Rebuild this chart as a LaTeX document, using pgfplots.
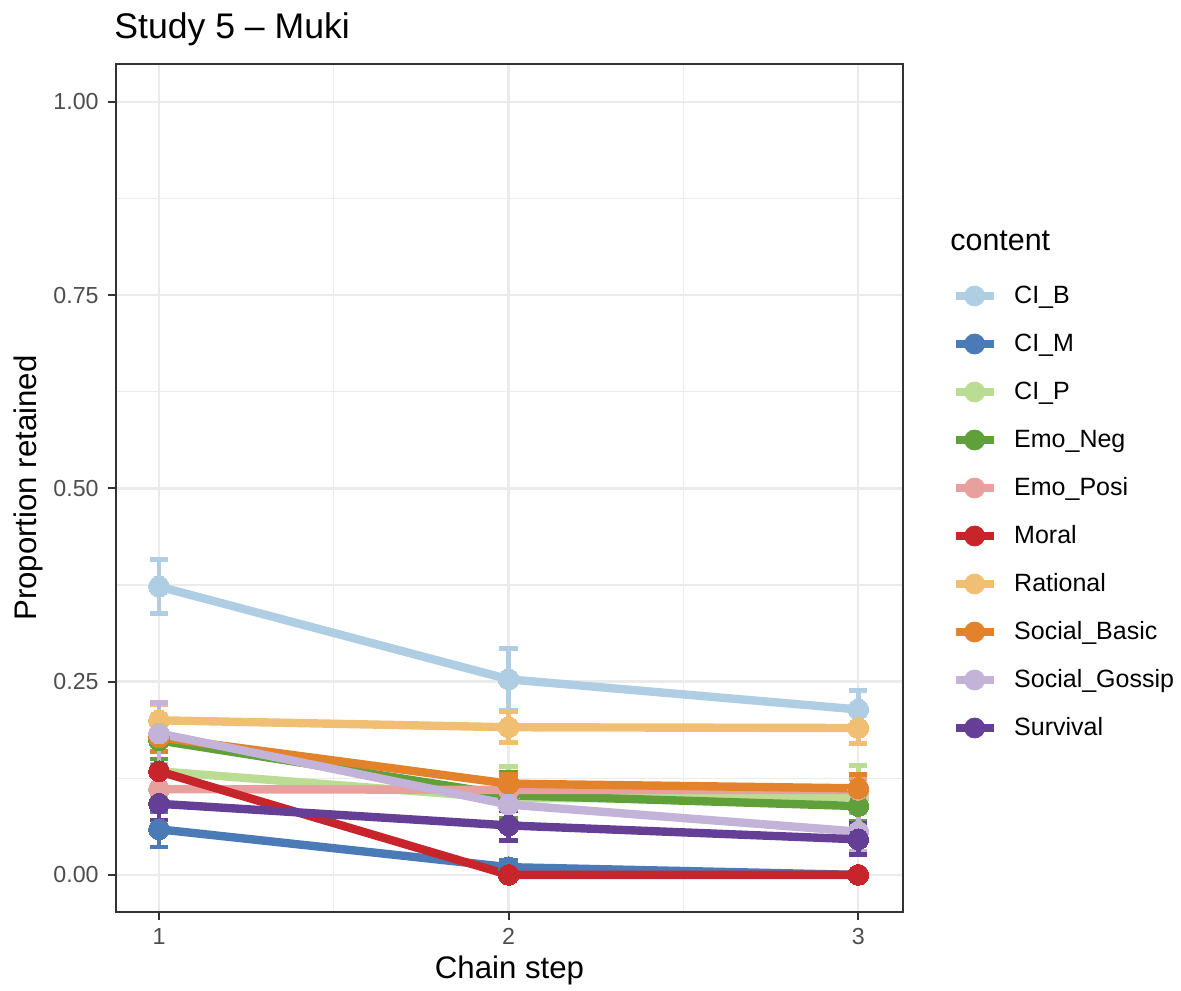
\documentclass[border=0pt]{standalone}
\usepackage{pgfplots}
\pgfplotsset{compat=1.18}
\usepackage{pgfplotstable}
\usepackage{fontspec}
\setmainfont{Liberation Sans}

\definecolor{cCIB}{HTML}{AFCDE3}
\definecolor{cCIM}{HTML}{4A7BB7}
\definecolor{cCIP}{HTML}{BADD93}
\definecolor{cENeg}{HTML}{5FA03A}
\definecolor{cEPos}{HTML}{E8A09E}
\definecolor{cMoral}{HTML}{C8242B}
\definecolor{cRat}{HTML}{F0BF74}
\definecolor{cSB}{HTML}{E2822A}
\definecolor{cSG}{HTML}{C3B3D8}
\definecolor{cSurv}{HTML}{653F95}
\definecolor{gridc}{HTML}{EBEBEB}
\definecolor{axc}{HTML}{333333}
\definecolor{tlc}{HTML}{4D4D4D}

\pgfplotstableread{
x y e
1 0.373 0.035
2 0.253 0.040
3 0.214 0.025
}\tCIB
\pgfplotstableread{
x y e
1 0.059 0.023
2 0.010 0.009
3 0.000 0.000
}\tCIM
\pgfplotstableread{
x y e
1 0.134 0.033
2 0.099 0.041
3 0.101 0.040
}\tCIP
\pgfplotstableread{
x y e
1 0.174 0.024
2 0.103 0.030
3 0.089 0.020
}\tENeg
\pgfplotstableread{
x y e
1 0.111 0.018
2 0.110 0.015
3 0.110 0.015
}\tEPos
\pgfplotstableread{
x y e
1 0.134 0.041
2 0.000 0.000
3 0.000 0.000
}\tMoral
\pgfplotstableread{
x y e
1 0.200 0.020
2 0.191 0.020
3 0.190 0.020
}\tRat
\pgfplotstableread{
x y e
1 0.178 0.018
2 0.118 0.012
3 0.112 0.018
}\tSB
\pgfplotstableread{
x y e
1 0.183 0.040
2 0.091 0.030
3 0.056 0.025
}\tSG
\pgfplotstableread{
x y e
1 0.092 0.021
2 0.064 0.019
3 0.046 0.020
}\tSurv

\pgfplotsset{
  lin/.style={color=#1, line width=4.2pt, mark=none, forget plot},
  pts/.style={color=#1, only marks, mark=*, mark size=5.2pt,
    mark options={solid, fill=#1, draw=#1, line width=0pt},
    legend image code/.code={
      \path[draw=none, fill=none] (0pt,-12pt) rectangle (19pt,12pt);
      \draw[line width=3.6pt, solid, #1] (0pt,0pt) -- (19pt,0pt);
      \fill[#1] (9.5pt,0pt) circle (5pt);
    }},
  ebar/.style={color=#1, only marks, mark=*, mark size=0pt, forget plot,
    error bars/.cd, y dir=both, y explicit,
    error bar style={line width=2.4pt, color=#1},
    error mark=|,
    error mark options={line width=2.4pt, mark size=4.6pt, color=#1, solid}},
}

\begin{document}
\begin{tikzpicture}
\useasboundingbox (0,0) rectangle (590.5pt,495pt);
\begin{axis}[
  at={(58pt,39pt)}, anchor=south west,
  width=393.5pt, height=424pt, scale only axis,
  xmin=0.877, xmax=3.128, ymin=-0.048, ymax=1.049,
  xtick={1,2,3}, minor xtick={1.5,2.5},
  ytick={0,0.25,0.5,0.75,1}, minor ytick={0.125,0.375,0.625,0.875},
  grid=both,
  major grid style={line width=1.2pt, color=gridc},
  minor grid style={line width=0.6pt, color=gridc},
  axis line style={line width=0.9pt, color=axc},
  tick pos=left, tick align=outside,
  major tick length=4pt, minor tick length=0pt,
  tick style={line width=0.9pt, color=axc},
  /pgf/number format/assume math mode=true,
  yticklabel style={/pgf/number format/fixed, /pgf/number format/fixed zerofill, /pgf/number format/precision=2, inner sep=0pt, xshift=-4.5pt},
  ticklabel style={font=\fontsize{11.6}{13}\selectfont, color=tlc},
  xticklabel style={inner sep=0pt, yshift=-4pt},
  xlabel={Chain step}, ylabel={Proportion retained},
  label style={font=\fontsize{15.6}{18}\selectfont, color=black},
  xlabel style={at={(axis description cs:0.5,0)}, anchor=center, yshift=-29pt},
  ylabel style={at={(axis description cs:0,0.5)}, anchor=center, yshift=44pt},
  title={Study 5 -- Muki},
  title style={at={(axis description cs:0,1)}, anchor=base west, inner sep=0pt, xshift=-1pt, yshift=6.8pt, font=\fontsize{17.8}{20}\selectfont},
  legend style={at={(axis description cs:1.0623,0.7547)}, anchor=north west,
    draw=none, fill=none, inner sep=0pt, outer sep=0pt, row sep=0pt, column sep=8.5pt,
    font=\fontsize{12.5}{14}\selectfont, nodes={inner sep=0pt}},
  legend cell align=left,
]
% lines
\addplot[lin=cCIB] table[x=x,y=y] {\tCIB};
\addplot[lin=cCIM] table[x=x,y=y] {\tCIM};
\addplot[lin=cCIP] table[x=x,y=y] {\tCIP};
\addplot[lin=cENeg] table[x=x,y=y] {\tENeg};
\addplot[lin=cEPos] table[x=x,y=y] {\tEPos};
\addplot[lin=cMoral] table[x=x,y=y] {\tMoral};
\addplot[lin=cRat] table[x=x,y=y] {\tRat};
\addplot[lin=cSB] table[x=x,y=y] {\tSB};
\addplot[lin=cSG] table[x=x,y=y] {\tSG};
\addplot[lin=cSurv] table[x=x,y=y] {\tSurv};
% points
\addplot[pts=cCIB] table[x=x,y=y] {\tCIB}; \addlegendentry{CI\_B}
\addplot[pts=cCIM] table[x=x,y=y] {\tCIM}; \addlegendentry{CI\_M}
\addplot[pts=cCIP] table[x=x,y=y] {\tCIP}; \addlegendentry{CI\_P}
\addplot[pts=cENeg] table[x=x,y=y] {\tENeg}; \addlegendentry{Emo\_Neg}
\addplot[pts=cEPos] table[x=x,y=y] {\tEPos}; \addlegendentry{Emo\_Posi}
\addplot[pts=cMoral] table[x=x,y=y] {\tMoral}; \addlegendentry{Moral}
\addplot[pts=cRat] table[x=x,y=y] {\tRat}; \addlegendentry{Rational}
\addplot[pts=cSB] table[x=x,y=y] {\tSB}; \addlegendentry{Social\_Basic}
\addplot[pts=cSG] table[x=x,y=y] {\tSG}; \addlegendentry{Social\_Gossip}
\addplot[pts=cSurv] table[x=x,y=y] {\tSurv}; \addlegendentry{Survival}
% error bars
\addplot[ebar=cCIB] table[x=x,y=y,y error=e] {\tCIB};
\addplot[ebar=cCIM] table[x=x,y=y,y error=e] {\tCIM};
\addplot[ebar=cCIP] table[x=x,y=y,y error=e] {\tCIP};
\addplot[ebar=cENeg] table[x=x,y=y,y error=e] {\tENeg};
\addplot[ebar=cEPos] table[x=x,y=y,y error=e] {\tEPos};
\addplot[ebar=cMoral] table[x=x,y=y,y error=e] {\tMoral};
\addplot[ebar=cRat] table[x=x,y=y,y error=e] {\tRat};
\addplot[ebar=cSB] table[x=x,y=y,y error=e] {\tSB};
\addplot[ebar=cSG] table[x=x,y=y,y error=e] {\tSG};
\addplot[ebar=cSurv] table[x=x,y=y,y error=e] {\tSurv};
\end{axis}
\node[anchor=west, inner sep=0pt, font=\fontsize{15.2}{17}\selectfont] at (475pt,374.5pt) {content};
\end{tikzpicture}
\end{document}
